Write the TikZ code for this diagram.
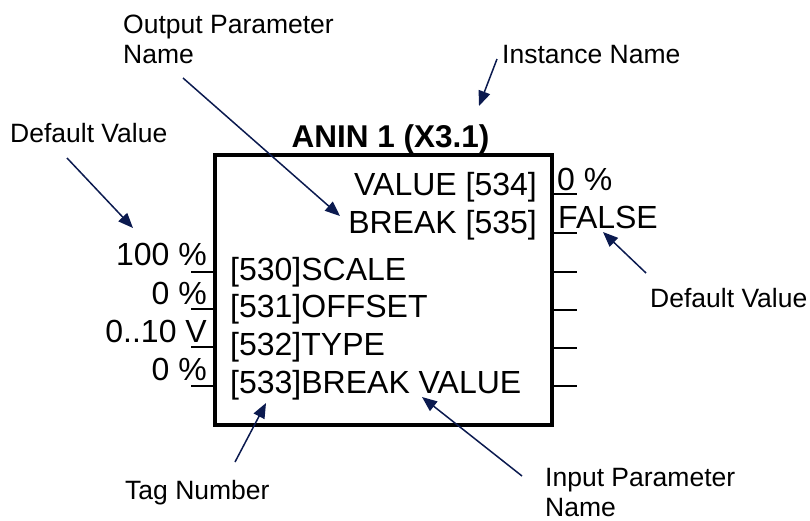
\documentclass[tikz,border=0pt]{standalone}
\usepackage{fontspec}
\setmainfont{Liberation Sans}
\usetikzlibrary{positioning, arrows.meta}
\usepackage{xcolor}
\definecolor{pointerblue}{HTML}{0B1A4F}

\begin{document}
\begin{tikzpicture}[x=1pt, y=-1pt,
  every node/.style={inner sep=0pt, font=\fontsize{32}{36}\selectfont},
  note/.style={font=\fontsize{26.5}{29.5}\selectfont, align=left},
  pointer/.style={-{Triangle[length=15pt, width=12pt]}, pointerblue, line width=1.5pt},
  pin/.style={line width=2.5pt}]
  \useasboundingbox (0,0) rectangle (810,520);

  % function block
  \node[draw, line width=4pt, minimum width=337pt, minimum height=270pt] (anin) at (383.5,290) {};
  \node[anchor=base, font=\bfseries\fontsize{31.5}{36}\selectfont] (title) at (390.5,147) {ANIN 1 (X3.1)};

  % outputs
  \node[anchor=base east] (value) at (537,195) {VALUE [534]};
  \node[anchor=base east] (break) at (537,233) {BREAK [535]};
  \node[anchor=base west] (valuedef) at (557,190) {0 \%};
  \node[anchor=base west] (breakdef) at (558,228) {FALSE};

  % inputs
  \node[anchor=base west] (scale) at (230,280) {[530]SCALE};
  \node[anchor=base west] (offset) at (230,317) {[531]OFFSET};
  \node[anchor=base west] (type) at (230,355) {[532]TYPE};
  \node[anchor=base west] (breakval) at (230,393) {[533]BREAK VALUE};
  \node[anchor=base east] (scaledef) at (207,265) {100 \%};
  \node[anchor=base east] (offsetdef) at (207,304) {0 \%};
  \node[anchor=base east] (typedef) at (207,342) {0..10 V};
  \node[anchor=base east] (breakvaldef) at (207,380) {0 \%};

  \foreach \y in {272,309,347,386}
    \draw[pin] (anin.west |- 0,\y) -- ++(-22,0);
  \foreach \y in {194,233,272,310,348,386}
    \draw[pin] (anin.east |- 0,\y) -- ++(23,0);

  % callouts
  \node[note, anchor=base west] (outname) at (123,63) {Output Parameter\\Name};
  \node[note, anchor=base west] (instname) at (502,63) {Instance Name};
  \node[note, anchor=base west] (defleft) at (10,142) {Default Value};
  \node[note, anchor=base west] (defright) at (650,307) {Default Value};
  \node[note, anchor=base west] (tagnum) at (125,499) {Tag Number};
  \node[note, anchor=base west] (inname) at (545,516) {Input Parameter\\Name};

  \coordinate (outnameS) at (183,78);
  \coordinate (outnameT) at (340,216);
  \coordinate (instnameS) at (497,59);
  \coordinate (instnameT) at (479,106);
  \coordinate (defleftS) at (67,158);
  \coordinate (defleftT) at (133,228);
  \coordinate (defrightS) at (646,273);
  \coordinate (defrightT) at (603,232);
  \coordinate (tagnumS) at (235,462);
  \coordinate (tagnumT) at (266,403);
  \coordinate (innameS) at (522,476);
  \coordinate (innameT) at (422,397);

  \draw[pointer] (outnameS) -- (outnameT);
  \draw[pointer] (instnameS) -- (instnameT);
  \draw[pointer] (defleftS) -- (defleftT);
  \draw[pointer] (defrightS) -- (defrightT);
  \draw[pointer] (tagnumS) -- (tagnumT);
  \draw[pointer] (innameS) -- (innameT);
\end{tikzpicture}
\end{document}
